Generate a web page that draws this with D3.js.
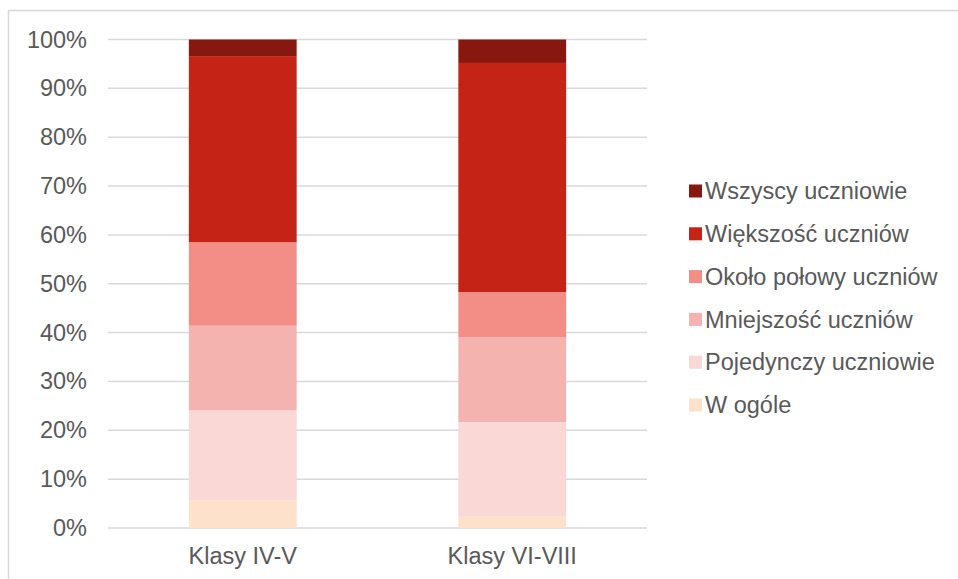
<!DOCTYPE html>
<html>
<head>
<meta charset="utf-8">
<script src="https://cdn.jsdelivr.net/npm/d3@7"></script>
<style>
    body { margin: 0; background: #fff; }
    text { font-family: "Liberation Sans", Arial, sans-serif; fill: #595959; }
</style>
</head>
<body>
<svg id="chart"></svg>
<script>
// Categories (x axis)
const categories = ["Klasy IV-V", "Klasy VI-VIII"];

// Series, bottom to top of the stack (percent)
const seriesNames = [
    "W ogóle",
    "Pojedynczy uczniowie",
    "Mniejszość uczniów",
    "Około połowy uczniów",
    "Większość uczniów",
    "Wszyscy uczniowie"
];
const wOgole      = [5.7, 2.3];
const pojedynczy  = [18.4, 19.4];
const mniejszosc  = [17.3, 17.4];
const okoloPolowy = [17.1, 9.2];
const wiekszosc   = [38.1, 46.9];
const wszyscy     = [3.4, 4.8];

const yTicks = [0, 0.1, 0.2, 0.3, 0.4, 0.5, 0.6, 0.7, 0.8, 0.9, 1];

const colors = ["#fde1cb", "#f9d8d6", "#f5b3b0", "#f28e86", "#c42316", "#86180f"];

const width = 958;
const height = 579;
const marginTop = 39.5;
const marginBottom = 51;
const marginLeft = 108;
const plotRight = 647;
const fontSize = 23.5;

// Build table for d3.stack
const seriesValues = [wOgole, pojedynczy, mniejszosc, okoloPolowy, wiekszosc, wszyscy];
const table = categories.map((c, i) => {
    const row = { category: c };
    seriesNames.forEach((s, j) => row[s] = seriesValues[j][i]);
    return row;
});

// Normalise to 100%
const stacked = d3.stack()
    .keys(seriesNames)
    .offset(d3.stackOffsetExpand)(table);

const svg = d3.select("#chart")
    .attr("width", width)
    .attr("height", height)
    .attr("viewBox", [0, 0, width, height]);

// Outer frame (top and left edges visible)
svg.append("path")
    .attr("d", `M8.5,${height} V10.5 H${width}`)
    .attr("fill", "none")
    .attr("stroke", "#d9d9d9")
    .attr("stroke-width", 1.5);

const x = d3.scaleBand(categories, [marginLeft, plotRight])
    .paddingInner(0.6)
    .paddingOuter(0.3);

const y = d3.scaleLinear([0, 1], [height - marginBottom, marginTop]);

// Gridlines
svg.append("g")
    .selectAll("line")
    .data(yTicks)
    .join("line")
        .attr("x1", marginLeft)
        .attr("x2", plotRight)
        .attr("y1", d => y(d))
        .attr("y2", d => y(d))
        .attr("stroke", "#d9d9d9")
        .attr("stroke-width", 1.5);

// Y axis labels
const yAxis = svg.append("g")
    .attr("transform", `translate(${marginLeft - 21}, 0)`)
    .call(d3.axisLeft(y).tickValues(yTicks).tickFormat(d3.format(".0%")).tickSize(0).tickPadding(0));
yAxis.select(".domain").remove();
yAxis.selectAll("text")
    .attr("font-size", fontSize)
    .attr("fill", "#595959")
    .attr("font-family", "Liberation Sans, Arial, sans-serif");

// Bars
svg.append("g")
    .selectAll("g")
    .data(stacked)
    .join("g")
        .attr("fill", (d, i) => colors[i])
    .selectAll("rect")
    .data(d => d)
    .join("rect")
        .attr("x", d => x(d.data.category))
        .attr("y", d => y(d[1]))
        .attr("height", d => y(d[0]) - y(d[1]))
        .attr("width", x.bandwidth());

// X axis labels
const xAxis = svg.append("g")
    .attr("transform", `translate(0, ${height - marginBottom})`)
    .call(d3.axisBottom(x).tickSize(0).tickPadding(19));
xAxis.select(".domain").remove();
xAxis.selectAll("text")
    .attr("font-size", fontSize)
    .attr("fill", "#595959")
    .attr("font-family", "Liberation Sans, Arial, sans-serif");

// Legend, top entry first
const legendItems = seriesNames.map((s, i) => ({ name: s, color: colors[i] })).reverse();
const legend = svg.append("g")
    .attr("transform", "translate(689, 191)");

const item = legend.selectAll("g")
    .data(legendItems)
    .join("g")
        .attr("transform", (d, i) => `translate(0, ${i * 42.8})`);

item.append("rect")
    .attr("x", 0)
    .attr("y", -6.5)
    .attr("width", 13)
    .attr("height", 13)
    .attr("fill", d => d.color);

item.append("text")
    .attr("x", 16)
    .attr("dy", "0.35em")
    .attr("font-size", fontSize)
    .text(d => d.name);
</script>
</body>
</html>
